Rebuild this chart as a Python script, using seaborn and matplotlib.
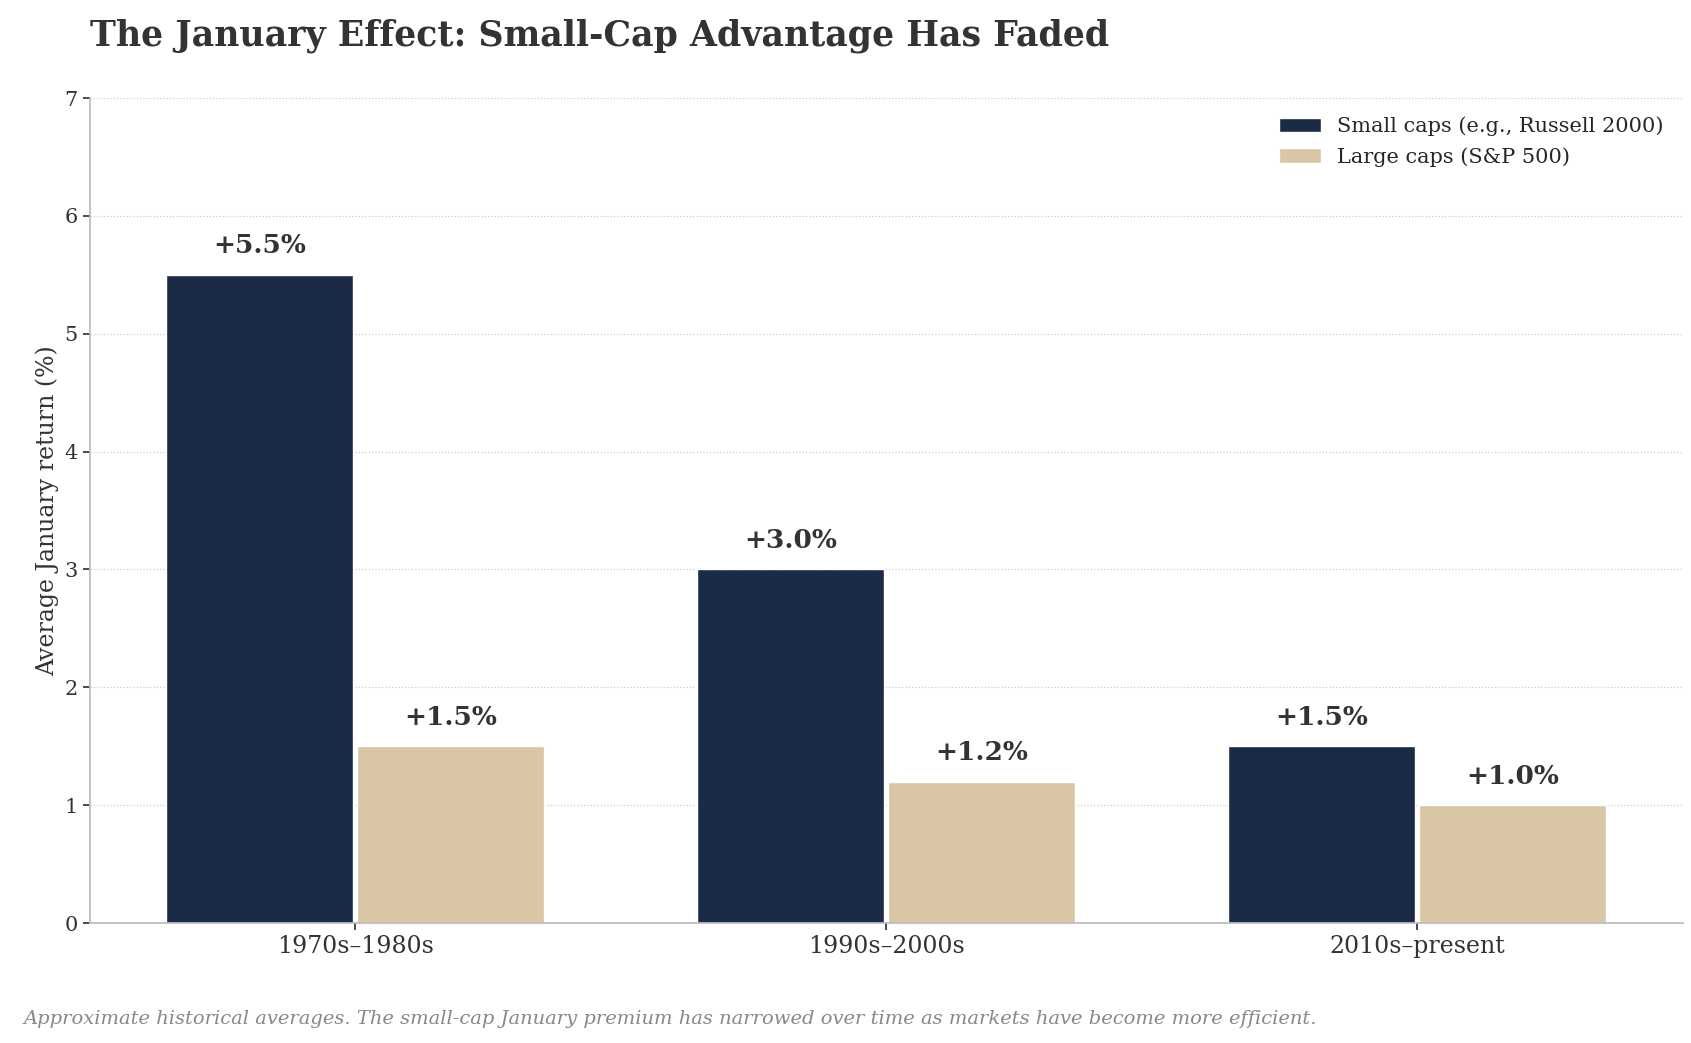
import pandas as pd
import seaborn as sns
import matplotlib.pyplot as plt

periods = ["1970s–1980s", "1990s–2000s", "2010s–present"]
small_caps = [5.5, 3.0, 1.5]
large_caps = [1.5, 1.2, 1.0]
series_names = ["Small caps (e.g., Russell 2000)", "Large caps (S&P 500)"]

df = pd.DataFrame({
    "period": periods * 2,
    "series": [series_names[0]] * 3 + [series_names[1]] * 3,
    "value": small_caps + large_caps,
})

sns.set_theme(style="white")
plt.rcParams["font.family"] = ["DejaVu Serif"]

fig = plt.figure(figsize=(16.91, 10.43), dpi=100)
ax = fig.add_axes([0.053, 0.115, 0.942, 0.791])

sns.barplot(data=df, x="period", y="value", hue="series",
            palette=["#1b2a47", "#d9c6a5"], width=0.72, gap=0.02,
            saturation=1, ax=ax)

for cont in ax.containers:
    ax.bar_label(cont, labels=[f"+{v:.1f}%" for v in cont.datavalues],
                 padding=12, fontsize=19, fontweight="bold", color="#333333")

ax.set_ylim(0, 7)
ax.set_xlim(-0.5, 2.5)
ax.set_xlabel("")
ax.set_ylabel("Average January return (%)", fontsize=17, color="#333333")
ax.tick_params(axis="x", labelsize=17, colors="#333333")
ax.tick_params(axis="y", labelsize=15, colors="#333333", left=True, length=5)
ax.tick_params(axis="x", bottom=True, length=5)
ax.yaxis.grid(True, linestyle=":", color="#cccccc", linewidth=0.9)
ax.set_axisbelow(True)
for s in ["top", "right"]:
    ax.spines[s].set_visible(False)
for s in ["left", "bottom"]:
    ax.spines[s].set_color("#bbbbbb")

ax.legend(title=None, frameon=False, fontsize=15, loc="upper right")

fig.text(0.053, 0.966, "The January Effect: Small-Cap Advantage Has Faded",
         fontsize=25, fontweight="bold", color="#333333", va="center")
fig.text(0.014, 0.023, "Approximate historical averages. The small-cap January premium has narrowed over time as markets have become more efficient.",
         fontsize=14, style="italic", color="#888888", va="center")

fig.savefig("out.png", dpi=100)
